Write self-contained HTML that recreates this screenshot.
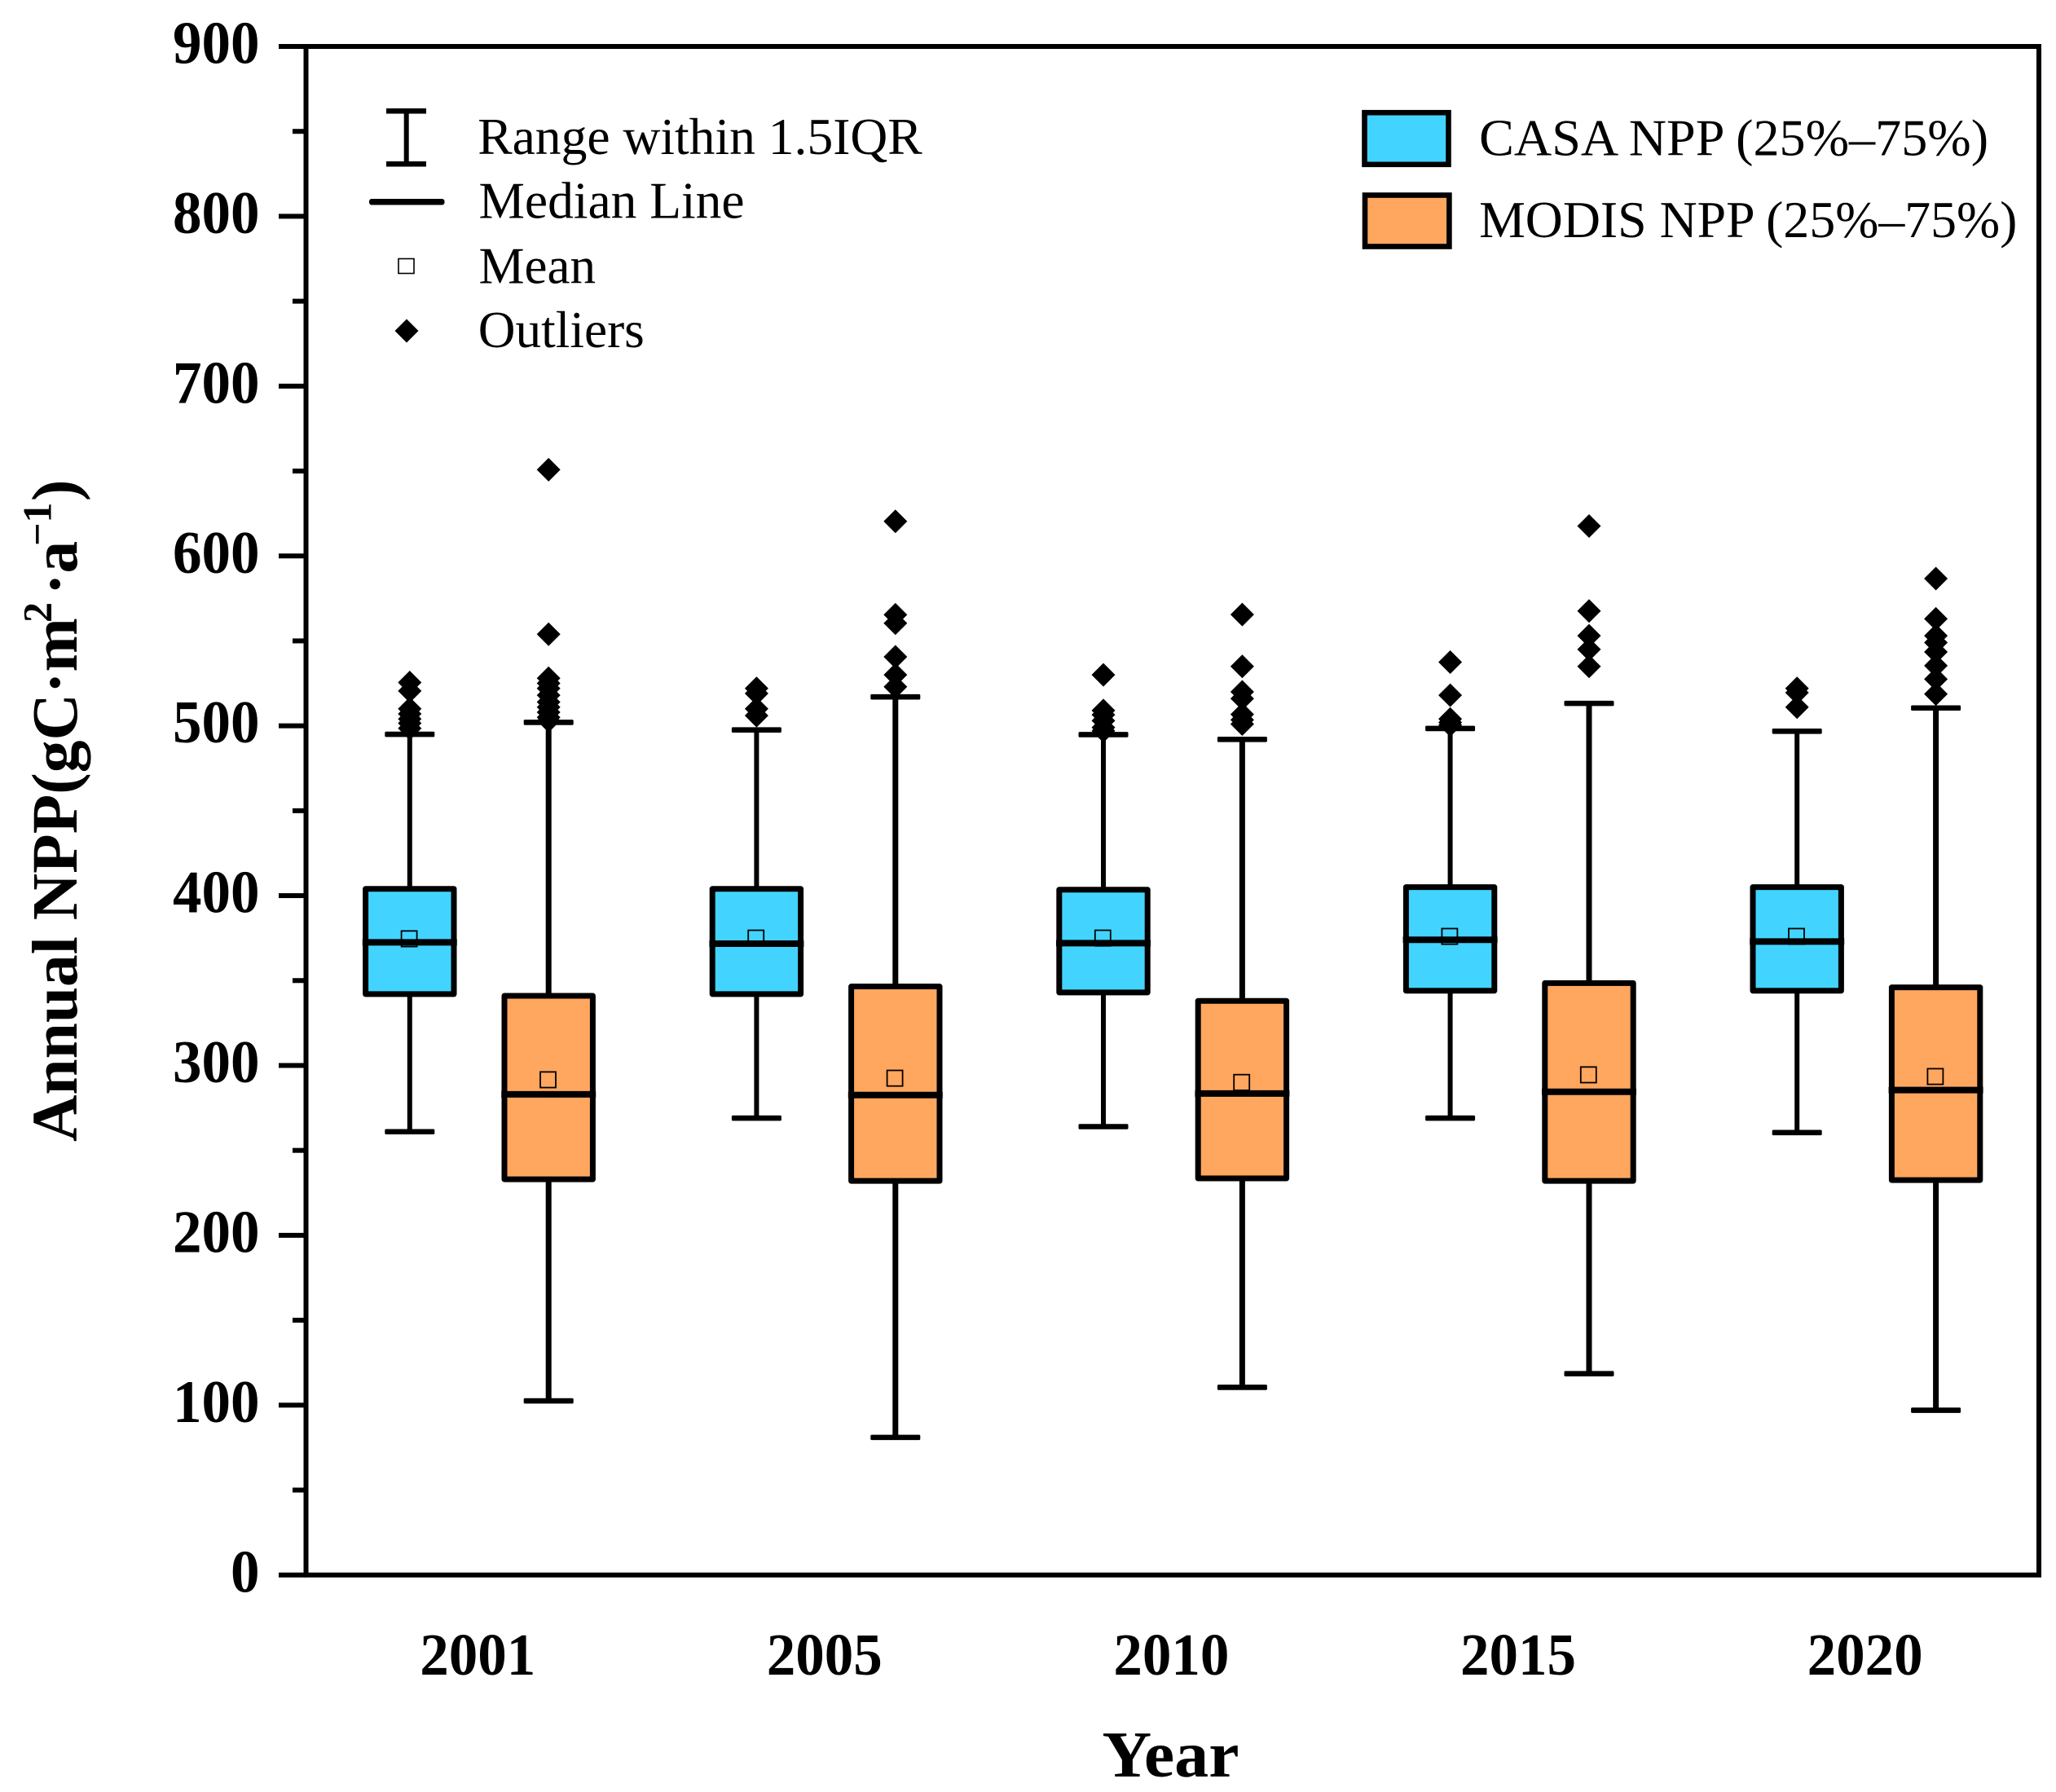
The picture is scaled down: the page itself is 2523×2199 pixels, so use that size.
<!DOCTYPE html>
<html lang="en">
<head>
<meta charset="utf-8">
<title>Annual NPP box plot</title>
<style>
html,body{margin:0;padding:0;background:#fff;}
svg{display:block;}
text{font-family:"Liberation Serif",serif;fill:#000;}
.leg{font-size:63.5px;}
.b{font-weight:bold;}
</style>
</head>
<body>
<svg id="chart" xmlns="http://www.w3.org/2000/svg" width="2523" height="2199" viewBox="0 0 2523 2199">
  <rect x="0" y="0" width="2523" height="2199" fill="#fff"/>
  <g id="plot"></g>
  <rect x="375.5" y="57" width="2126.5" height="1875.7" fill="none" stroke="#000" stroke-width="6"/>
  <g id="axes"></g>

  <g>
    <g>
      <rect x="474" y="133" width="49" height="6.5" fill="#000"/>
      <rect x="474" y="198" width="49" height="6.5" fill="#000"/>
      <rect x="495.7" y="136" width="6" height="65" fill="#000"/>
    </g>
    <text class="leg" x="586.2" y="189" textLength="545.5" lengthAdjust="spacingAndGlyphs">Range within 1.5IQR</text>
    <rect x="453" y="244" width="92.5" height="7.5" rx="3" fill="#000"/>
    <text class="leg" x="587.5" y="267.3" textLength="326" lengthAdjust="spacingAndGlyphs">Median Line</text>
    <rect x="489" y="317.5" width="19" height="18" fill="#fff" stroke="#000" stroke-width="1.6"/>
    <text class="leg" x="587.5" y="347.3" textLength="143.5" lengthAdjust="spacingAndGlyphs">Mean</text>
    <polygon points="499,391.5 513.5,406 499,420.5 484.5,406" fill="#000"/>
    <text class="leg" x="586.8" y="426" textLength="204" lengthAdjust="spacingAndGlyphs">Outliers</text>
  </g>

  <g>
    <rect x="1674.5" y="138.2" width="103" height="63.6" fill="#42D4FF" stroke="#000" stroke-width="6.6"/>
    <text class="leg" x="1815.1" y="190.7" textLength="625" lengthAdjust="spacingAndGlyphs">CASA NPP (25%–75%)</text>
    <rect x="1675" y="239.5" width="103.4" height="63" fill="#FFA65F" stroke="#000" stroke-width="6.6"/>
    <text class="leg" x="1815.1" y="291" textLength="660.3" lengthAdjust="spacingAndGlyphs">MODIS NPP (25%–75%)</text>
  </g>

  <text class="b" x="1352.5" y="2180" font-size="80" textLength="168" lengthAdjust="spacingAndGlyphs">Year</text>
  <text class="b" font-size="79.5" transform="translate(94,1401) rotate(-90)"><tspan x="0" y="0">Annual NPP(gC·m</tspan><tspan x="637" y="-31.3" font-size="50">2</tspan><tspan x="671" y="0">·a</tspan><tspan x="731" y="-31.3" font-size="50">−1</tspan><tspan x="786" y="0">)</tspan></text>
</svg>

<script>
// ---- chart data ----
const categories = ['2001', '2005', '2010', '2015', '2020'];
const yTickValues = [0, 100, 200, 300, 400, 500, 600, 700, 800, 900];
const yTickLabels = ['0', '100', '200', '300', '400', '500', '600', '700', '800', '900'];
const yMinorTickValues = [50, 150, 250, 350, 450, 550, 650, 750, 850];

const casaLow = [261, 269, 264, 269, 260.5];
const casaQ1 = [342, 342, 343, 344, 344];
const casaMedian = [372.5, 371.7, 372, 374, 373];
const casaMean = [374.6, 375, 375, 376, 376];
const casaQ3 = [404, 404, 403.5, 405, 405];
const casaHigh = [495, 497.6, 494.8, 498.4, 496.8];
const casaOutliers = [
  [525.5, 520.5, 510, 507, 504, 501.5, 498.5],
  [522, 519, 510, 506],
  [530, 509, 506.5, 503, 499, 497],
  [537.5, 518, 504, 502, 500.5],
  [522, 519.5, 511]
];

const modisLow = [102.5, 81, 110.5, 118.5, 97];
const modisQ1 = [233, 232, 233.5, 232, 232.5];
const modisMedian = [283, 282.6, 283.5, 284.5, 285.5];
const modisMean = [291.6, 292.5, 290, 294.5, 293.5];
const modisQ3 = [341, 346.5, 338, 348.5, 346];
const modisHigh = [502, 517, 492, 513.2, 510.5];
const modisOutliers = [
  [650.8, 553.9, 528, 525, 522, 518, 514, 511, 508, 505, 503],
  [620.4, 565.4, 560.4, 540.6, 530, 523],
  [565.5, 535, 520, 516, 506.7, 503.5, 501],
  [617.6, 567.6, 553, 545, 535],
  [586.7, 563, 553, 549, 543.5, 535.4, 527.5, 518.7]
];

// ---- axis functions ----
const yZero = 1932.7, yTop = 57, yMaxValue = 900;
function yScale(v) { return yZero - v * (yZero - yTop) / yMaxValue; }
function xCategory(i) { return 588 + 425.6 * i; }
function xCasa(i) { return xCategory(i) - 85.2; }
function xModis(i) { return xCategory(i) + 85.2; }

const NS = 'http://www.w3.org/2000/svg';
const plot = document.getElementById('plot');
const axes = document.getElementById('axes');

function shape(parent, tag, attrs) {
  const el = document.createElementNS(NS, tag);
  for (const k in attrs) el.setAttribute(k, attrs[k]);
  parent.appendChild(el);
  return el;
}

function drawBox(group, cx, low, q1, med, mean, q3, high, outliers, fill, stemWidth) {
  const halfBox = 54.2, halfCap = 30.5, halfMedian = 58;
  const stem = shape(group, 'line', { x1: cx, x2: cx, y1: yScale(high), y2: yScale(low), stroke: '#000', 'stroke-width': stemWidth });
  
  
  const capHigh = shape(group, 'rect', { x: cx - halfCap, y: yScale(high) - 3.3, width: 2 * halfCap, height: 6.6, rx: 1.5, fill: '#000' });
  
  
  const capLow = shape(group, 'rect', { x: cx - halfCap, y: yScale(low) - 3.3, width: 2 * halfCap, height: 6.6, rx: 1.5, fill: '#000' });
  
  
  const box = shape(group, 'rect', { x: cx - halfBox, y: yScale(q3), width: 2 * halfBox, height: yScale(q1) - yScale(q3), fill: fill, stroke: '#000', 'stroke-width': 7, 'stroke-linejoin': 'round' });
  
  
  const medLine = shape(group, 'line', { x1: cx - halfMedian, x2: cx + halfMedian, y1: yScale(med), y2: yScale(med), stroke: '#000', 'stroke-width': 8 });
  
  
  const meanMark = shape(group, 'rect', { x: cx - 10.2, y: yScale(mean) - 9.6, width: 19, height: 19.2, fill: 'none', stroke: '#000', 'stroke-width': 1.8 });
  
  
  outliers.forEach(function (v) {
    const y = yScale(v), r = 14.5;
    const d = shape(group, 'polygon', { points: cx + ',' + (y - r) + ' ' + (cx + r) + ',' + y + ' ' + cx + ',' + (y + r) + ' ' + (cx - r) + ',' + y, fill: '#000' });
    
    
  });
}

categories.forEach(function (cat, i) {
  const casaGroup = shape(plot, 'g', {});
  
  
  drawBox(casaGroup, xCasa(i), casaLow[i], casaQ1[i], casaMedian[i], casaMean[i], casaQ3[i], casaHigh[i], casaOutliers[i], '#42D4FF', 6);

  const modisGroup = shape(plot, 'g', {});
  
  
  drawBox(modisGroup, xModis(i), modisLow[i], modisQ1[i], modisMedian[i], modisMean[i], modisQ3[i], modisHigh[i], modisOutliers[i], '#FFA65F', 7);

  const label = shape(axes, 'text', { x: xCategory(i) - 1.8, y: 2055, 'text-anchor': 'middle', 'font-size': 73, 'font-weight': 'bold', textLength: 142, lengthAdjust: 'spacingAndGlyphs' });
  
  
  label.textContent = cat;
});

yTickValues.forEach(function (v, i) {
  const tick = shape(axes, 'rect', { x: 342, y: yScale(v) - 3, width: 33, height: 6, fill: '#000' });
  
  
  const text = yTickLabels[i];
  const label = shape(axes, 'text', { x: 318.5, y: yScale(v) + 20.6, 'text-anchor': 'end', 'font-size': 74, 'font-weight': 'bold', textLength: 35.5 * text.length, lengthAdjust: 'spacingAndGlyphs' });
  
  
  label.textContent = text;
});

yMinorTickValues.forEach(function (v) {
  const tick = shape(axes, 'rect', { x: 359, y: yScale(v) - 3, width: 16, height: 6, fill: '#000' });
  
  
});
</script>
</body>
</html>
